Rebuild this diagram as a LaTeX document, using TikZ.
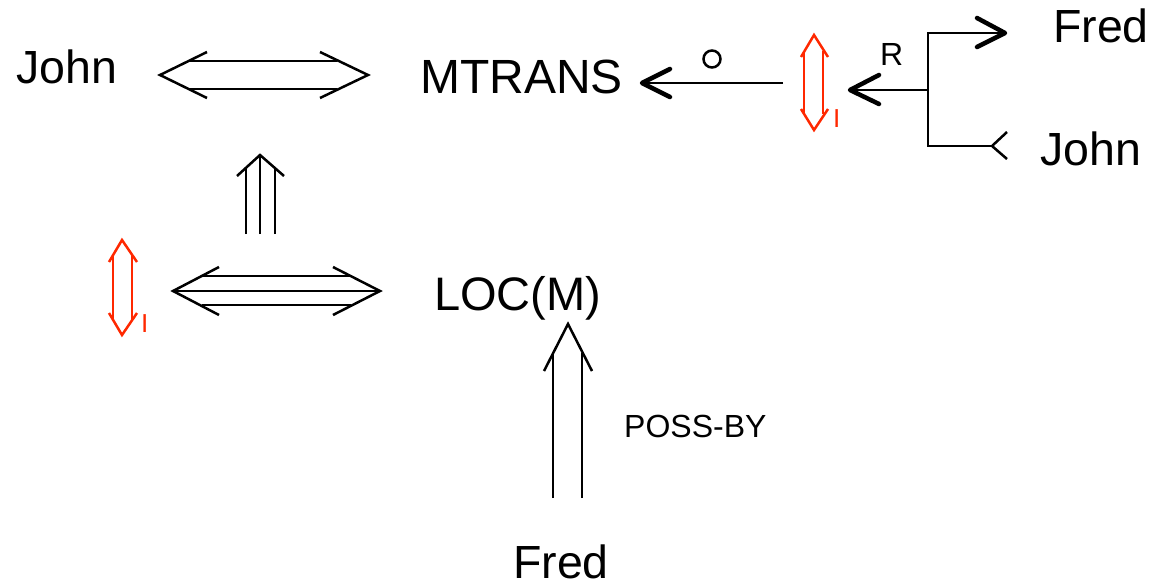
\documentclass[tikz,border=0pt]{standalone}
\usepackage{fontspec}
\setmainfont{Liberation Sans}
\definecolor{cdred}{RGB}{255,40,0}
\begin{document}
\begin{tikzpicture}[x=1pt,y=-1pt,
  ln/.style={line width=2.5pt},
  thk/.style={line width=4.5pt,line cap=round,line join=round},
  rd/.style={line width=2.5pt,draw=cdred},
  lbl/.style={anchor=base west,inner sep=0pt,font=\fontsize{46.5}{55}\selectfont}]
\useasboundingbox (0,0) rectangle (1155,586);
% texts
\node[lbl] (john1) at (16,83) {John};
\node[lbl,font=\fontsize{48}{57}\selectfont] (mtrans) at (420,93) {MTRANS};
\node[lbl] (fred1) at (1053,43) {Fred};
\node[lbl] (john2) at (1040,165) {John};
\node[lbl,font=\fontsize{47}{56}\selectfont] (loc) at (434,310) {LOC(M)};
\node[lbl,font=\fontsize{32}{38}\selectfont] (poss) at (624,437) {POSS-BY};
\node[lbl] (fred2) at (513,578) {Fred};
\node[lbl,font=\fontsize{32}{38}\selectfont] (r) at (880,65) {R};
\node[lbl,font=\fontsize{26}{31}\selectfont,text=cdred] (i1) at (833,127) {I};
\node[lbl,font=\fontsize{26}{31}\selectfont,text=cdred] (i2) at (141,332) {I};
\node[draw,circle,line width=2.5pt,minimum size=17pt,inner sep=0pt] (o) at (712,59) {};
% John <=> MTRANS
\draw[ln] (190,61) -- (337,61);
\draw[ln] (190,89) -- (337,89);
\draw[ln] (207,52) -- (160,75) -- (207,98);
\draw[ln] (320,52) -- (368,75) -- (320,98);
% triple vertical
\draw[ln] (260,234) -- (260,155);
\draw[ln] (246,234) -- (246,168);
\draw[ln] (275,234) -- (275,168);
\draw[ln] (237,176) -- (260,155) -- (284,176);
% triple horizontal
\draw[ln] (173,291) -- (380,291);
\draw[ln] (202,276) -- (351,276);
\draw[ln] (202,305) -- (351,305);
\draw[ln] (219,267) -- (173,291) -- (219,315);
\draw[ln] (333,267) -- (380,291) -- (333,315);
% POSS-BY double vertical
\draw[ln] (553,498) -- (553,353);
\draw[ln] (582,498) -- (582,353);
\draw[ln] (544,371) -- (568,324) -- (592,371);
% O arrow
\draw[ln] (783,83) -- (646,83);
\draw[thk] (670,69) -- (642,83) -- (670,97);
% R arrow and branch
\draw[ln] (928,90) -- (854,90);
\draw[thk] (879,75) -- (850,90) -- (879,104);
\draw[ln] (1003,33) -- (928,33) -- (928,146) -- (992,146);
\draw[thk] (977,18) -- (1005,33) -- (977,47);
\draw[ln] (1007,132) -- (992,146) -- (1007,159);
% red arrows
\draw[rd] (804,51) -- (804,114);
\draw[rd] (823,51) -- (823,114);
\draw[rd] (801,57) -- (814,35) -- (828,57);
\draw[rd] (801,109) -- (814,130) -- (828,109);
\draw[rd] (113,256) -- (113,320);
\draw[rd] (132,256) -- (132,320);
\draw[rd] (109,262) -- (122,240) -- (137,262);
\draw[rd] (109,313) -- (122,335) -- (137,313);
\end{tikzpicture}
\end{document}
